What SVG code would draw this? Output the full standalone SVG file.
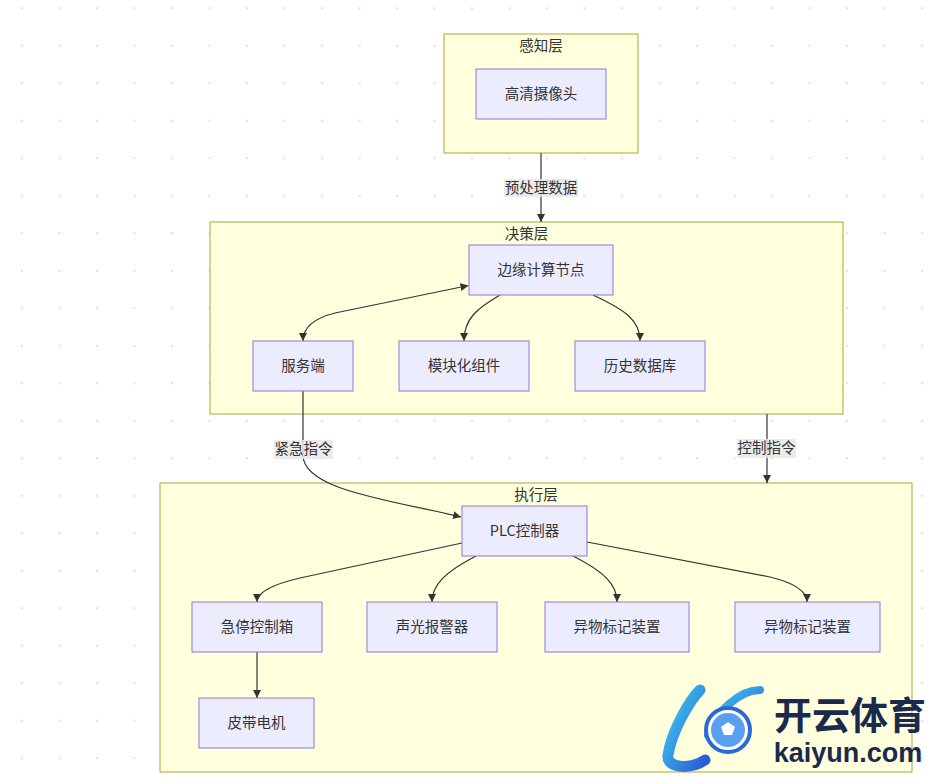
<svg xmlns="http://www.w3.org/2000/svg" width="943" height="784" viewBox="0 0 943 784">
<defs>
<pattern id="dots" patternUnits="userSpaceOnUse" x="3.25" y="-10.45" width="37.5" height="37.5">
<circle cx="18.75" cy="18.75" r="1.3" fill="#e2e2e2"/>
</pattern>
<marker id="arr" viewBox="0 0 10 10" refX="10" refY="5" markerWidth="8" markerHeight="8" markerUnits="userSpaceOnUse" orient="auto">
<path d="M0,0 L10,5 L0,10 z" fill="#333333"/>
</marker>
<marker id="arrStart" viewBox="0 0 10 10" refX="0" refY="5" markerWidth="8" markerHeight="8" markerUnits="userSpaceOnUse" orient="auto">
<path d="M10,0 L0,5 L10,10 z" fill="#333333"/>
</marker>
<linearGradient id="kblue" x1="0" y1="0" x2="1" y2="1">
<stop offset="0" stop-color="#3fd0f0"/>
<stop offset="1" stop-color="#2a5ad8"/>
</linearGradient>
</defs>
<style>
.cluster rect{fill:#ffffde;stroke:#aaaa33;stroke-width:1}
.node rect{fill:#ececff;stroke:#9370db;stroke-width:1}
text{font-family:"Noto Sans CJK SC","Liberation Sans",sans-serif;font-size:14.5px;fill:#333333;text-anchor:middle}
.edge{fill:none;stroke:#333333;stroke-width:1.2}
.lblbg{fill:#e8e8e8;opacity:0.85}
</style>
<rect width="943" height="784" fill="#ffffff"/>
<rect width="943" height="784" fill="url(#dots)"/>

<g id="cluster-perception" class="cluster">
<rect x="444" y="34" width="194" height="119"/>
<text x="541" y="51">感知层</text>
</g>
<g id="cluster-decision" class="cluster">
<rect x="210" y="222" width="633" height="192"/>
<text x="526.5" y="239">决策层</text>
</g>
<g id="cluster-execution" class="cluster">
<rect x="160" y="483" width="752" height="289"/>
<text x="536" y="500">执行层</text>
</g>

<g id="connectors">
<path class="edge" d="M541,153 L541,222" marker-end="url(#arr)"/>
<path class="edge" d="M468.5,285.5 L335,313 Q303,321 303,341" marker-start="url(#arrStart)" marker-end="url(#arr)"/>
<path class="edge" d="M500,295 C478,308 464,318 464,341" marker-end="url(#arr)"/>
<path class="edge" d="M593,295 C625,310 640,320 640,341" marker-end="url(#arr)"/>
<path class="edge" d="M303,391 L303,455 C303,490 390,500 461,517" marker-end="url(#arr)"/>
<path class="edge" d="M767,414 L767,483" marker-end="url(#arr)"/>
<path class="edge" d="M462,543 L300,578 Q257,588 257,602" marker-end="url(#arr)"/>
<path class="edge" d="M476,556 C445,572 432,585 432,602" marker-end="url(#arr)"/>
<path class="edge" d="M573,556 C605,572 617,585 617,602" marker-end="url(#arr)"/>
<path class="edge" d="M587,542 L770,577 Q807,586 807,602" marker-end="url(#arr)"/>
<path class="edge" d="M257,652 L257,698" marker-end="url(#arr)"/>
<g id="edge-labels">
<rect class="lblbg" x="504" y="179" width="74" height="18"/>
<text x="541" y="193">预处理数据</text>
<rect class="lblbg" x="274" y="440" width="59" height="19"/>
<text x="303.5" y="454">紧急指令</text>
<rect class="lblbg" x="737" y="439" width="59" height="19"/>
<text x="766.5" y="453">控制指令</text>
</g>
</g>

<g id="node-camera" class="node">
<rect x="476" y="69" width="130" height="50"/>
<text x="541" y="99">高清摄像头</text>
</g>
<g id="node-edge" class="node">
<rect x="469" y="245" width="144" height="50"/>
<text x="541" y="275">边缘计算节点</text>
</g>
<g id="node-server" class="node">
<rect x="253" y="341" width="100" height="50"/>
<text x="303" y="371">服务端</text>
</g>
<g id="node-module" class="node">
<rect x="399" y="341" width="130" height="50"/>
<text x="464" y="371">模块化组件</text>
</g>
<g id="node-history" class="node">
<rect x="575" y="341" width="130" height="50"/>
<text x="640" y="371">历史数据库</text>
</g>
<g id="node-plc" class="node">
<rect x="462" y="506" width="125" height="50"/>
<text x="524.5" y="536">PLC控制器</text>
</g>
<g id="node-estop" class="node">
<rect x="192" y="602" width="130" height="50"/>
<text x="257" y="632">急停控制箱</text>
</g>
<g id="node-alarm" class="node">
<rect x="367" y="602" width="130" height="50"/>
<text x="432" y="632">声光报警器</text>
</g>
<g id="node-marker1" class="node">
<rect x="545" y="602" width="144" height="50"/>
<text x="617" y="632">异物标记装置</text>
</g>
<g id="node-marker2" class="node">
<rect x="735" y="602" width="145" height="50"/>
<text x="807.5" y="632">异物标记装置</text>
</g>
<g id="node-motor" class="node">
<rect x="199" y="698" width="115" height="50"/>
<text x="256.5" y="728">皮带电机</text>
</g>

<g id="watermark">
<path d="M700,690 C690,700 672,730 668,755 C666,768 690,770 705,760" fill="none" stroke="url(#kblue)" stroke-width="11" stroke-linecap="round"/>
<path d="M760,690 C740,690 715,712 708,735" fill="none" stroke="url(#kblue)" stroke-width="8" stroke-linecap="round"/>
<circle cx="728" cy="730" r="22" fill="#ffffff" stroke="#2a6ad8" stroke-width="4"/>
<circle cx="728" cy="730" r="17" fill="#5aa0f0"/>
<polygon points="728,722 735,727 732,735 724,735 721,727" fill="#ffffff"/>
<text x="850" y="729" style="font-size:38px;font-weight:bold;fill:#1b2a4c">开云体育</text>
<text x="848" y="762" style="font-family:'Liberation Sans',sans-serif;font-size:27px;font-weight:bold;fill:#1b2a4c">kaiyun.com</text>
</g>
</svg>
